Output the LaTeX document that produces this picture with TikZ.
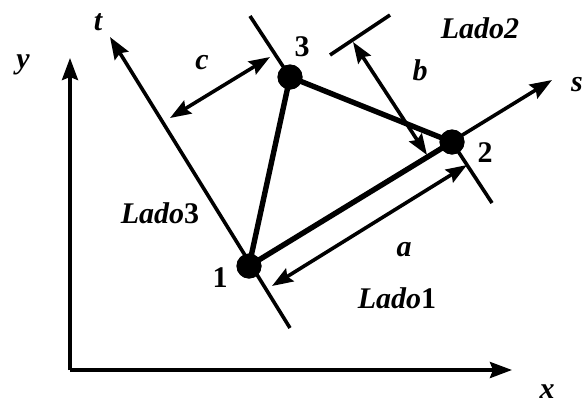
\documentclass[tikz,border=0pt]{standalone}
\usepackage{fontspec}
\setmainfont{Liberation Serif}
\usetikzlibrary{arrows.meta}
\tikzset{
  vert/.style={circle,fill=black,inner sep=0pt,minimum size=25pt},
  axisline/.style={line width=3.6pt},
  edge/.style={line width=5.4pt},
  tip/.style={-{Stealth[length=22pt,width=16pt,inset=3pt]}},
  dtip/.style={{Stealth[length=21pt,width=15pt,inset=3pt]}-{Stealth[length=21pt,width=15pt,inset=3pt]}},
  lbl/.style={inner sep=0pt,font=\fontsize{30}{34}\selectfont\bfseries}
}
\begin{document}
\begin{tikzpicture}[x=1pt,y=-1pt]
\useasboundingbox (0,0) rectangle (584,408);
% coordinates
\coordinate (O) at (70,370);
\coordinate (ytip) at (70,58);
\coordinate (xtip) at (512,370);
\coordinate (ttip) at (110,37);
\coordinate (l1end) at (290,328);
\coordinate (stip) at (552,80);
\coordinate (l2end) at (492,203);
\coordinate (l3end) at (250,16);
\coordinate (topA) at (330,55);
\coordinate (topB) at (390,15);
\coordinate (bA) at (353,42);
\coordinate (bB) at (427,155);
\coordinate (aA) at (272,286);
\coordinate (aB) at (467,165);
\coordinate (cA) at (170,118);
\coordinate (cB) at (270,57);
% vertices
\node[vert] (n1) at (249,266) {};
\node[vert] (n2) at (452,142) {};
\node[vert] (n3) at (290,77) {};
% axes
\draw[axisline,tip] (O) -- (ytip);
\draw[axisline,tip] (O) -- (xtip);
\draw[axisline,tip] (l1end) -- (ttip);
\draw[axisline,tip] (n1.center) -- (stip);
\draw[axisline] (n2.center) -- (l2end);
\draw[axisline] (n3.center) -- (l3end);
\draw[axisline] (topA) -- (topB);
% dimension arrows
\draw[axisline,dtip] (bA) -- (bB);
\draw[axisline,dtip] (aA) -- (aB);
\draw[axisline,dtip] (cA) -- (cB);
% triangle
\draw[edge] (n1.center) -- (n2.center) -- (n3.center) -- cycle;
\node[vert] at (n1) {};
\node[vert] at (n2) {};
\node[vert] at (n3) {};
% labels
\node[lbl] (ly) at (23,65) {\itshape y};
\node[lbl] (lt) at (98,22) {\itshape t};
\node[lbl] (lc) at (202,63) {\itshape c};
\node[lbl] (l3) at (302,47) {3};
\node[lbl] (lLado2) at (480,28) {\itshape Lado2};
\node[lbl] (lb) at (420,70) {\itshape b};
\node[lbl,anchor=east] (ls) at (583,85) {\itshape s};
\node[lbl] (l2) at (485,153) {2};
\node[lbl] (lLado3) at (160,213) {{\itshape Lado}3};
\node[lbl] (la) at (404,250) {\itshape a};
\node[lbl] (l1) at (220,278) {1};
\node[lbl] (lLado1) at (397,298) {{\itshape Lado}1};
\node[lbl] (lx) at (547,392) {\itshape x};
\end{tikzpicture}
\end{document}
